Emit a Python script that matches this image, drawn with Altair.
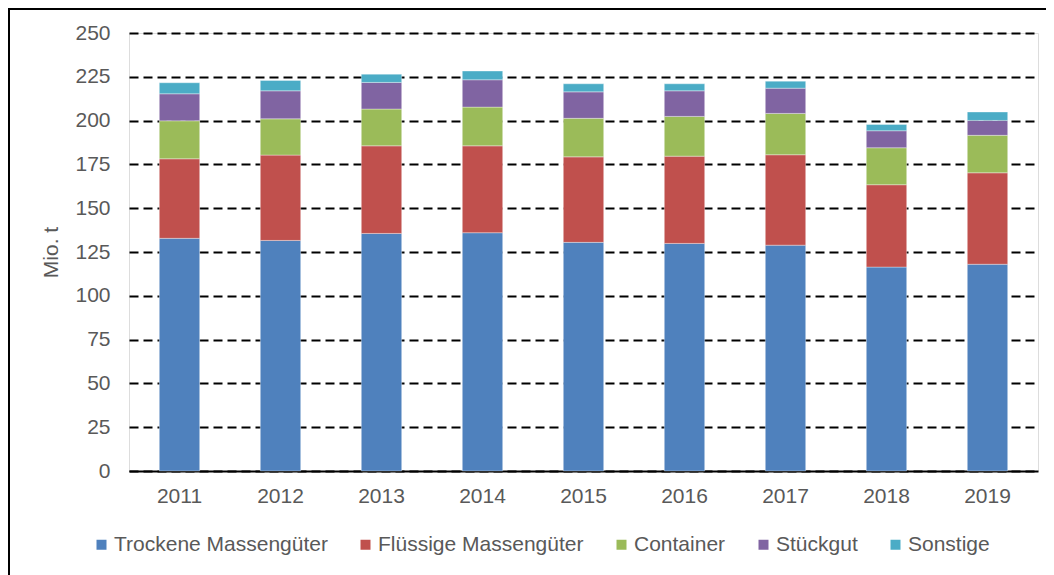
import altair as alt
import pandas as pd

years = ["2011", "2012", "2013", "2014", "2015", "2016", "2017", "2018", "2019"]
categories = ["Trockene Massengüter", "Flüssige Massengüter", "Container", "Stückgut", "Sonstige"]
colors = ["#4F81BD", "#C0504D", "#9BBB59", "#8064A2", "#4BACC6"]

trocken = [132.8, 131.6, 135.6, 136.0, 130.5, 129.9, 128.9, 116.4, 118.0]
fluessig = [45.4, 48.7, 50.0, 49.6, 48.8, 49.8, 51.6, 47.0, 52.2]
container = [21.7, 20.7, 21.0, 22.1, 22.0, 22.7, 23.6, 21.1, 21.4]
stueckgut = [15.4, 16.0, 15.2, 15.6, 15.1, 14.6, 14.4, 9.7, 8.5]
sonstige = [6.3, 5.9, 4.7, 5.0, 4.6, 4.0, 4.0, 3.6, 4.8]

series = [trocken, fluessig, container, stueckgut, sonstige]
rows = []
for ci, (cat, vals) in enumerate(zip(categories, series)):
    for y, v in zip(years, vals):
        rows.append({"Jahr": y, "Kategorie": cat, "Wert": v, "ord": ci})
df = pd.DataFrame(rows)

FS = 21

bars = alt.Chart(df).mark_bar(stroke="white", strokeWidth=1, strokeOpacity=0.35).encode(
    x=alt.X("Jahr:N", sort=years,
            scale=alt.Scale(paddingInner=0.6, paddingOuter=0.3),
            axis=alt.Axis(title=None, labelAngle=0, ticks=False, domain=True,
                          domainColor="#000000", domainWidth=2, labelPadding=14,
                          labelFontSize=FS, labelColor="#595959", labelFont="Liberation Sans",
                          grid=False)),
    y=alt.Y("Wert:Q", stack="zero",
            scale=alt.Scale(domain=[0, 250], nice=False),
            axis=alt.Axis(title="Mio. t", values=list(range(0, 251, 25)), ticks=False, domain=False,
                          grid=True, gridColor="#000000", gridWidth=2, gridDash=[9, 5],
                          labelPadding=19, labelFontSize=FS, labelColor="#595959",
                          labelFont="Liberation Sans",
                          titleFontSize=FS, titleFontWeight="normal", titleColor="#595959",
                          titleFont="Liberation Sans", titlePadding=13)),
    color=alt.Color("Kategorie:N",
                    scale=alt.Scale(domain=categories, range=colors),
                    legend=alt.Legend(title=None, orient="none", direction="horizontal",
                                      legendX=-38, legendY=501, padding=0,
                                      symbolType="square", symbolSize=100, symbolStrokeWidth=0,
                                      labelFontSize=FS, labelColor="#595959", labelLimit=500,
                                      labelFont="Liberation Sans", labelOffset=2,
                                      columnPadding=27)),
    order=alt.Order("ord:Q", sort="ascending"),
)

frame_df = pd.DataFrame({"a": [0]})
left_border = alt.Chart(frame_df).mark_rule(color="#000000", strokeWidth=2).encode(
    x=alt.value(-120), y=alt.value(-25), y2=alt.value(560))
top_border = alt.Chart(frame_df).mark_rule(color="#000000", strokeWidth=2).encode(
    x=alt.value(-121), x2=alt.value(930), y=alt.value(-24))

chart = alt.layer(bars, left_border, top_border).properties(
    width=909, height=438,
    autosize=alt.AutoSizeParams(type="none"),
    padding={"left": 121, "top": 25, "right": 8, "bottom": 104},
).configure_view(stroke=None).configure(font="Liberation Sans")

chart.save("out.html", embed_options={"renderer": "svg", "actions": False})
